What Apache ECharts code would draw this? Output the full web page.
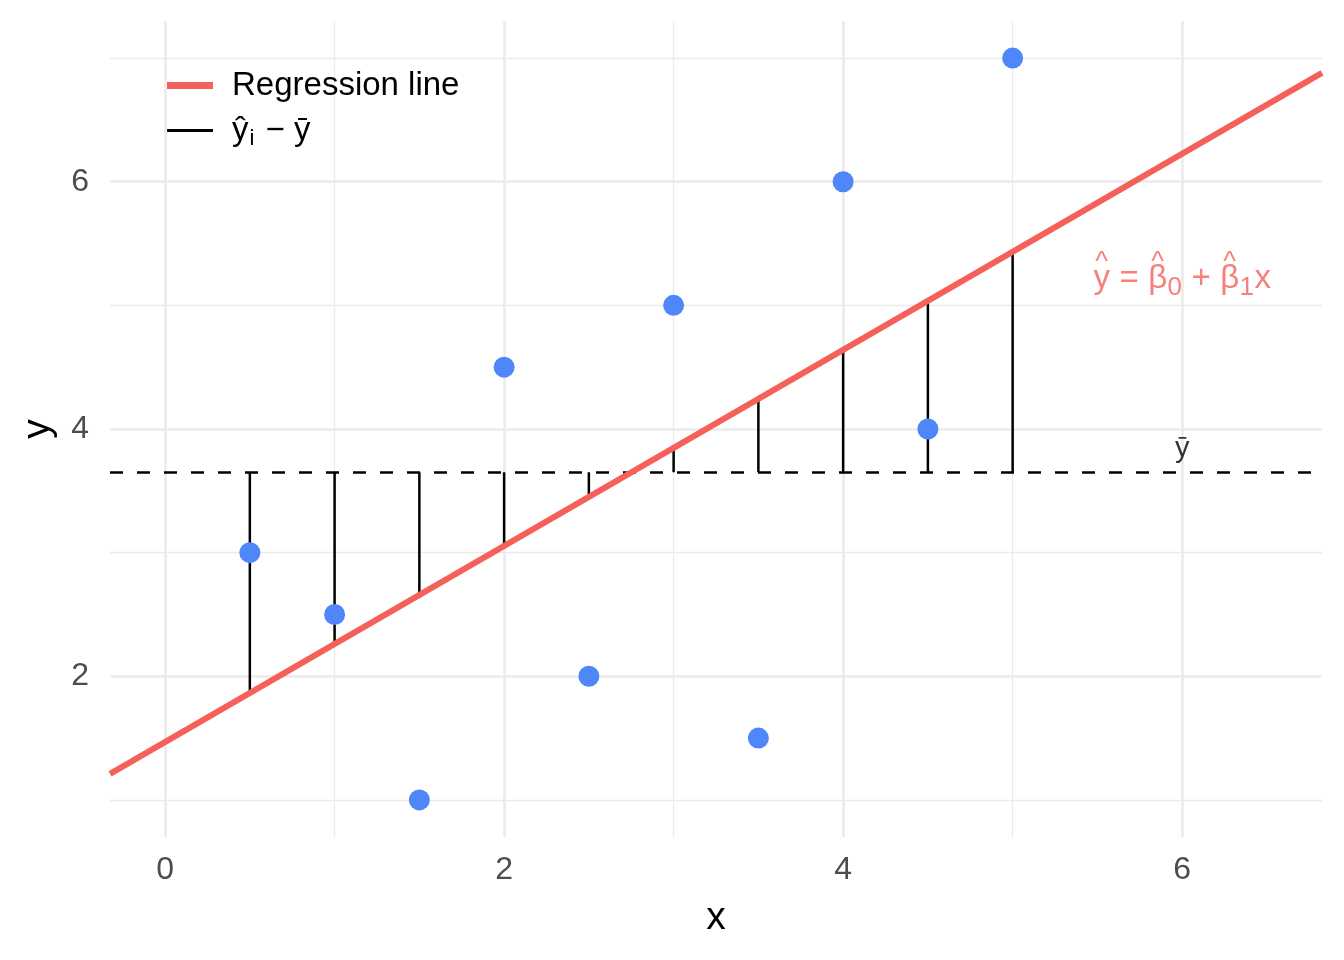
<!DOCTYPE html>
<html>
<head>
<meta charset="utf-8">
<script src="https://cdn.jsdelivr.net/npm/echarts@6/dist/echarts.min.js"></script>
<style>
  html, body { margin: 0; padding: 0; background: #fff; }
  #chart { width: 1344px; height: 960px; }
</style>
</head>
<body>
<div id="chart"></div>
<script>
// data
var xs = [0.5, 1, 1.5, 2, 2.5, 3, 3.5, 4, 4.5, 5];
var ys = [3, 2.5, 1, 4.5, 2, 5, 1.5, 6, 4, 7];
var yMean = 3.65;
var fitted = [1.86, 2.26, 2.66, 3.05, 3.45, 3.85, 4.25, 4.64, 5.04, 5.44];
// regression line end points (at the panel edges)
var regX = [-0.325, 6.825];
var regY = [1.21, 6.88];
// grid / tick values
var xMajor = [0, 2, 4, 6];
var xMinor = [1, 3, 5];
var yMajor = [2, 4, 6];
var yMinor = [1, 3, 5, 7];
// annotations
var eqPos = [6, 5.2];
var ybarPos = [6, 3.84];

var RED = '#F5605A';
var BLUE = '#4F86FA';
var GRID = '#EBEBEB';

var chart = echarts.init(document.getElementById('chart'));

// build tables for the library
var points = xs.map(function (x, i) { return [x, ys[i]]; });
var segData = [];
xs.forEach(function (x, i) {
  segData.push([x, yMean]);
  segData.push([x, fitted[i]]);
  segData.push([x, '-']);
});
var regData = regX.map(function (x, i) { return [x, regY[i]]; });

var gridLines = [];
xMajor.forEach(function (v) { gridLines.push({ xAxis: v, lineStyle: { width: 2.6 } }); });
xMinor.forEach(function (v) { gridLines.push({ xAxis: v, lineStyle: { width: 1.3 } }); });
yMajor.forEach(function (v) { gridLines.push({ yAxis: v, lineStyle: { width: 2.6 } }); });
yMinor.forEach(function (v) { gridLines.push({ yAxis: v, lineStyle: { width: 1.3 } }); });

// equation label: hats on a first line, formula on the second, same column widths
function col(w, extra) {
  var s = { width: w, align: 'center', color: RED };
  for (var k in extra) s[k] = extra[k];
  return s;
}
var hat = { fontSize: 27, lineHeight: 12 };
var main = { fontSize: 33, lineHeight: 20 };
var sub = { fontSize: 26, lineHeight: 2, padding: [18, 0, 0, 0] };
var eqRich = {
  hy: col(17, hat), he: col(38, hat), hb: col(19, hat), hn: col(15, hat), hx: col(17, hat),
  y: col(17, main), e: col(38, main), b: col(19, main), n: col(15, sub), p: col(38, main), x: col(17, main)
};
var eqText = '{hy|^}{he| }{hb|^}{hn| }{he| }{hb|^}{hn| }{hx| }\n' +
             '{y|y}{e| = }{b|β}{n|0}{p| + }{b|β}{n|1}{x|x}';

var option = {
  backgroundColor: '#fff',
  animation: false,
  textStyle: { fontFamily: 'Liberation Sans, Arial, sans-serif' },
  grid: { left: 110, right: 22, top: 21, bottom: 123 },
  legend: {
    left: 162, top: 64,
    orient: 'vertical',
    itemWidth: 46, itemHeight: 20,
    itemGap: 12,
    data: [
      { name: 'Regression line', icon: 'path://M0,0H46V7H0Z' },
      { name: 'seg', icon: 'path://M0,0H46V3H0Z' }
    ],
    formatter: function (name) {
      if (name === 'seg') return '{a|ŷ}{s|i}{a| − ȳ}';
      return '{a|' + name + '}';
    },
    textStyle: {
      color: '#000', fontSize: 33, padding: [0, 0, 0, 14],
      rich: {
        a: { fontSize: 33, color: '#000' },
        s: { fontSize: 22, color: '#000', padding: [16, 2, 0, 1] }
      }
    }
  },
  xAxis: {
    type: 'value', min: regX[0], max: regX[1],
    name: 'x', nameLocation: 'middle', nameGap: 62,
    nameTextStyle: { fontSize: 39, color: '#000' },
    axisLine: { show: false }, axisTick: { show: false },
    splitLine: { show: false },
    axisLabel: { customValues: xMajor, fontSize: 32, color: '#4D4D4D', margin: 17 }
  },
  yAxis: {
    type: 'value', min: 0.7, max: 7.3,
    name: 'y', nameLocation: 'middle', nameGap: 52,
    nameTextStyle: { fontSize: 39, color: '#000' },
    axisLine: { show: false }, axisTick: { show: false },
    splitLine: { show: false },
    axisLabel: { customValues: yMajor, fontSize: 32, color: '#4D4D4D', margin: 21 }
  },
  series: [
    {
      name: 'grid', type: 'line', data: [], z: 0, silent: true,
      markLine: {
        silent: true, symbol: 'none', animation: false, z: 0,
        label: { show: false },
        lineStyle: { color: GRID, type: 'solid' },
        emphasis: { disabled: true },
        data: gridLines
      }
    },
    {
      name: 'mean', type: 'line', data: [], z: 1, silent: true,
      markLine: {
        silent: true, symbol: 'none', animation: false, z: 1,
        label: { show: false },
        lineStyle: { color: '#000', type: [13, 14], width: 2.5 },
        emphasis: { disabled: true },
        data: [{ yAxis: yMean }]
      }
    },
    {
      name: 'seg', type: 'line', data: segData, z: 2,
      symbol: 'none', connectNulls: false,
      lineStyle: { color: '#000', width: 2.5 },
      itemStyle: { color: '#000' }
    },
    {
      name: 'Regression line', type: 'line', data: regData, z: 3,
      symbol: 'none',
      lineStyle: { color: RED, width: 6 },
      itemStyle: { color: RED }
    },
    {
      name: 'points', type: 'scatter', data: points, z: 4,
      symbolSize: 21,
      itemStyle: { color: BLUE, opacity: 1 }
    },
    {
      name: 'eq', type: 'scatter', z: 5, symbolSize: 0, silent: true,
      data: [eqPos],
      label: {
        show: true, position: 'inside', offset: [0, -8],
        formatter: eqText,
        rich: eqRich
      }
    },
    {
      name: 'ybar', type: 'scatter', z: 5, symbolSize: 0, silent: true,
      data: [ybarPos],
      label: {
        show: true, position: 'inside',
        formatter: 'ȳ', fontSize: 29, color: '#000'
      }
    }
  ]
};

chart.setOption(option);
</script>
</body>
</html>
